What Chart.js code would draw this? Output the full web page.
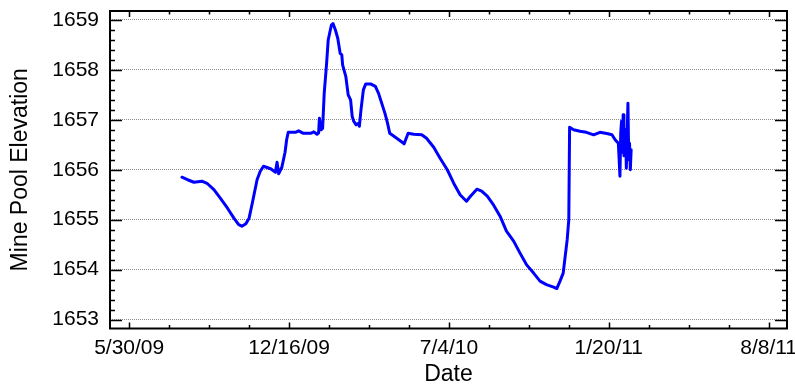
<!DOCTYPE html>
<html>
<head>
<meta charset="utf-8">
<title>Mine Pool Elevation</title>
<script src="https://cdn.jsdelivr.net/npm/chart.js@4.4.1/dist/chart.umd.min.js"></script>
<style>
  html, body { margin: 0; padding: 0; background: #ffffff; }
  #wrap { width: 795px; height: 386px; position: relative; }
</style>
</head>
<body>
<div id="wrap"><canvas id="chart" width="795" height="386"></canvas></div>
<script>
// Sampled readings: date of reading and mine pool elevation
const readingDates = [
  '2009-08-04','2009-08-11','2009-08-19','2009-08-29','2009-09-05','2009-09-13','2009-09-21','2009-09-30',
  '2009-10-08','2009-10-14','2009-10-18','2009-10-23','2009-10-27','2009-10-31','2009-11-06','2009-11-10',
  '2009-11-14','2009-11-23','2009-11-29','2009-12-01','2009-12-03','2009-12-07','2009-12-11','2009-12-13',
  '2009-12-15','2009-12-24','2009-12-28','2010-01-03','2010-01-12','2010-01-16','2010-01-20','2010-01-22',
  '2010-01-23','2010-01-25','2010-01-27','2010-01-29','2010-02-01','2010-02-03','2010-02-07','2010-02-09',
  '2010-02-12','2010-02-15','2010-02-18','2010-02-20','2010-02-21','2010-02-25','2010-02-28','2010-03-03',
  '2010-03-05','2010-03-07','2010-03-10','2010-03-13','2010-03-14','2010-03-16','2010-03-19','2010-03-22',
  '2010-03-28','2010-04-03','2010-04-07','2010-04-11','2010-04-15','2010-04-18','2010-04-21','2010-04-28',
  '2010-05-04','2010-05-09','2010-05-14','2010-05-21','2010-05-31','2010-06-06','2010-06-15','2010-06-23',
  '2010-07-02','2010-07-10','2010-07-18','2010-07-26','2010-07-31','2010-08-08','2010-08-14','2010-08-21',
  '2010-08-29','2010-09-06','2010-09-14','2010-09-23','2010-10-01','2010-10-09','2010-10-18','2010-10-26',
  '2010-11-03','2010-11-12','2010-11-16','2010-11-20','2010-11-24','2010-11-26','2010-11-29','2010-12-01',
  '2010-12-02','2010-12-07','2010-12-15','2010-12-23','2011-01-01','2011-01-09','2011-01-19','2011-01-24',
  '2011-01-28','2011-02-01','2011-02-03','2011-02-04','2011-02-05','2011-02-06','2011-02-07','2011-02-08',
  '2011-02-10','2011-02-11','2011-02-13','2011-02-14','2011-02-15','2011-02-16','2011-02-17'
];
const elevations = [
  1655.85,1655.80,1655.75,1655.77,1655.72,1655.60,1655.43,1655.23,
  1655.03,1654.90,1654.87,1654.92,1655.03,1655.33,1655.80,1655.97,
  1656.07,1656.02,1655.95,1656.15,1655.92,1656.05,1656.35,1656.60,
  1656.75,1656.75,1656.78,1656.73,1656.73,1656.76,1656.71,1656.74,
  1657.03,1656.80,1656.83,1657.53,1658.13,1658.60,1658.90,1658.93,
  1658.80,1658.63,1658.33,1658.30,1658.10,1657.87,1657.50,1657.40,
  1657.07,1656.97,1656.90,1656.93,1656.87,1657.20,1657.60,1657.72,
  1657.72,1657.67,1657.53,1657.33,1657.13,1656.95,1656.73,1656.65,
  1656.58,1656.52,1656.73,1656.71,1656.70,1656.63,1656.45,1656.23,
  1656.00,1655.73,1655.50,1655.37,1655.47,1655.61,1655.57,1655.47,
  1655.29,1655.07,1654.77,1654.57,1654.33,1654.10,1653.93,1653.77,
  1653.70,1653.65,1653.62,1653.77,1653.93,1654.20,1654.60,1655.00,
  1656.85,1656.80,1656.77,1656.75,1656.70,1656.75,1656.72,1656.70,
  1656.60,1656.53,1655.87,1656.75,1656.97,1656.35,1657.10,1656.28,
  1656.80,1656.03,1657.33,1656.20,1656.53,1656.00,1656.40
];

// Axis labels and ranges
const xTickDates = ['2009-05-30', '2009-12-16', '2010-07-04', '2011-01-20', '2011-08-08'];
const yTickValues = [1653, 1654, 1655, 1656, 1657, 1658, 1659];
const xRange = ['2009-05-06', '2011-08-31'];
const yRange = [1652.82, 1659.18];
const xMinorStepDays = 50;
const yMinorStep = 0.2;

const DAY = 86400000;
function toMs(s) {
  const [y, m, d] = s.split('-').map(Number);
  return Date.UTC(y, m - 1, d);
}
function fmtDate(v) {
  const dt = new Date(v);
  const yy = String(dt.getUTCFullYear() % 100).padStart(2, '0');
  return (dt.getUTCMonth() + 1) + '/' + dt.getUTCDate() + '/' + yy;
}

const points = readingDates.map((d, i) => ({ x: toMs(d), y: elevations[i] }));
const FONT = "'Liberation Sans', Arial, Helvetica, sans-serif";

// Frame on all four sides with inward-pointing major/minor ticks
const frameTicks = {
  id: 'frameTicks',
  afterDatasetsDraw(chart) {
    const { ctx, chartArea: a, scales: { x, y } } = chart;
    ctx.save();
    ctx.strokeStyle = '#000';
    ctx.lineWidth = 1.5;
    ctx.beginPath();
    const x0 = toMs(xTickDates[0]);
    const xMin = toMs(xRange[0]), xMax = toMs(xRange[1]);
    for (let k = -20; k <= 40; k++) {
      const v = x0 + k * xMinorStepDays * DAY;
      if (v < xMin || v > xMax) continue;
      const px = Math.round(x.getPixelForValue(v)) + 0.5;
      const major = k % 4 === 0;
      const len = major ? 6 : 3.5;
      ctx.moveTo(px, a.bottom); ctx.lineTo(px, a.bottom - len);
      ctx.moveTo(px, a.top); ctx.lineTo(px, a.top + len);
    }
    const yBase = yTickValues[0];
    for (let k = -5; k <= 40; k++) {
      const v = yBase + k * yMinorStep;
      if (v < yRange[0] || v > yRange[1]) continue;
      const py = Math.round(y.getPixelForValue(v)) + 0.5;
      const major = k % 5 === 0;
      const len = major ? 12 : 5;
      ctx.moveTo(a.left, py); ctx.lineTo(a.left + len, py);
      ctx.moveTo(a.right, py); ctx.lineTo(a.right - len, py);
    }
    ctx.stroke();
    ctx.lineWidth = 2;
    ctx.strokeRect(a.left, a.top, a.right - a.left, a.bottom - a.top);
    ctx.restore();
  }
};

new Chart(document.getElementById('chart'), {
  type: 'line',
  data: {
    datasets: [{
      data: points,
      borderColor: '#0000ff',
      borderWidth: 3,
      borderJoinStyle: 'round',
      borderCapStyle: 'round',
      pointRadius: 0,
      tension: 0,
      fill: false
    }]
  },
  options: {
    responsive: false,
    animation: false,
    devicePixelRatio: 1,
    layout: { padding: { left: 0, right: 8, top: 11, bottom: 0 } },
    plugins: { legend: { display: false }, tooltip: { enabled: false } },
    scales: {
      x: {
        type: 'linear',
        min: toMs(xRange[0]),
        max: toMs(xRange[1]),
        afterBuildTicks(s) { s.ticks = xTickDates.map(d => ({ value: toMs(d) })); },
        afterFit(s) { s.height = 57.5; s.paddingLeft = 0; s.paddingRight = 0; },
        ticks: {
          callback: v => fmtDate(v),
          autoSkip: false, maxRotation: 0, padding: 7,
          color: '#000', font: { family: FONT, size: 21 }
        },
        grid: { display: false, drawTicks: false },
        border: { display: false },
        title: {
          display: true, text: 'Date', color: '#000',
          font: { family: FONT, size: 23, lineHeight: 1 },
          padding: { top: 0, bottom: 0 }
        }
      },
      y: {
        min: yRange[0],
        max: yRange[1],
        afterBuildTicks(s) { s.ticks = yTickValues.map(v => ({ value: v })); },
        afterFit(s) { s.width = 110; s.paddingTop = 0; s.paddingBottom = 0; },
        ticks: {
          callback: v => String(v),
          padding: 11,
          color: '#000', font: { family: FONT, size: 21 }
        },
        grid: { display: true, drawTicks: false, color: '#8c8c8c', lineWidth: 1 },
        border: { display: false, dash: [1, 1] },
        title: {
          display: true, text: 'Mine Pool Elevation', color: '#000',
          font: { family: FONT, size: 23, lineHeight: 1 },
          padding: { top: 9, bottom: 0 }
        }
      }
    }
  },
  plugins: [frameTicks]
});
</script>
</body>
</html>
